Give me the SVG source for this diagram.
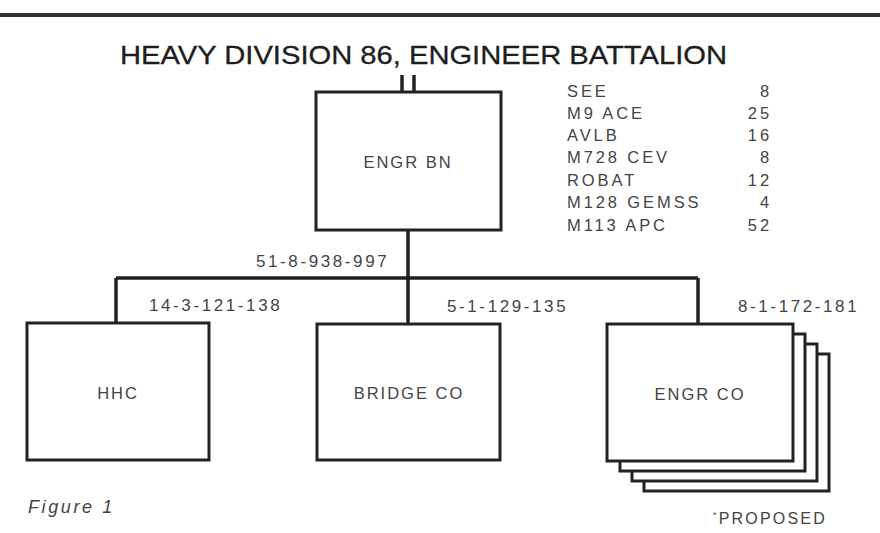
<svg xmlns="http://www.w3.org/2000/svg" width="880" height="533" viewBox="0 0 880 533">
<style>
.box{fill:#fff;stroke:#222;stroke-width:3}
.ln{stroke:#222;stroke-width:3.5;fill:none}
.lbl{font-family:"Liberation Sans",Arial,sans-serif;font-size:16.5px;fill:#444;letter-spacing:2px}
.num{font-family:"Liberation Sans",Arial,sans-serif;font-size:17px;fill:#444;letter-spacing:2.6px}
.eq{font-family:"Liberation Sans",Arial,sans-serif;font-size:16.5px;fill:#444;letter-spacing:2.9px}
.title{font-family:"Liberation Sans",Arial,sans-serif;font-size:25px;fill:#1e1e1e;stroke:#1e1e1e;stroke-width:0.3}
</style>
<rect width="880" height="533" fill="#fff"/>
<line x1="0" y1="15" x2="880" y2="15" stroke="#333" stroke-width="4"/>
<text class="title" x="120" y="64" textLength="607" lengthAdjust="spacingAndGlyphs">HEAVY DIVISION 86, ENGINEER BATTALION</text>
<g id="connectors">
<line class="ln" x1="402" y1="75" x2="402" y2="92" stroke-width="2.5"/>
<line class="ln" x1="414" y1="75" x2="414" y2="92" stroke-width="2.5"/>
<line class="ln" x1="408" y1="230" x2="408" y2="278"/>
<line class="ln" x1="116" y1="278" x2="698" y2="278"/>
<line class="ln" x1="116" y1="278" x2="116" y2="323"/>
<line class="ln" x1="408" y1="278" x2="408" y2="324"/>
<line class="ln" x1="698" y1="278" x2="698" y2="324"/>
</g>
<g id="engr-bn">
<rect class="box" x="316" y="92" width="185" height="138"/>
<text class="lbl" x="408" y="168" text-anchor="middle">ENGR BN</text>
</g>
<g id="equipment">
<text class="eq" x="567" y="97">SEE</text><text class="eq" x="772" y="97" text-anchor="end">8</text>
<text class="eq" x="567" y="119">M9 ACE</text><text class="eq" x="772" y="119" text-anchor="end">25</text>
<text class="eq" x="567" y="141">AVLB</text><text class="eq" x="772" y="141" text-anchor="end">16</text>
<text class="eq" x="567" y="163">M728 CEV</text><text class="eq" x="772" y="163" text-anchor="end">8</text>
<text class="eq" x="567" y="186">ROBAT</text><text class="eq" x="772" y="186" text-anchor="end">12</text>
<text class="eq" x="567" y="208">M128 GEMSS</text><text class="eq" x="772" y="208" text-anchor="end">4</text>
<text class="eq" x="567" y="231">M113 APC</text><text class="eq" x="772" y="231" text-anchor="end">52</text>
</g>
<text class="num" x="256" y="267">51-8-938-997</text>
<text class="num" x="149" y="311">14-3-121-138</text>
<text class="num" x="447" y="312">5-1-129-135</text>
<text class="num" x="738" y="312">8-1-172-181</text>
<g id="hhc">
<rect class="box" x="27" y="323" width="182" height="137"/>
<text class="lbl" x="118" y="399" text-anchor="middle">HHC</text>
</g>
<g id="bridge-co">
<rect class="box" x="317" y="324" width="183" height="136"/>
<text class="lbl" x="409" y="399" text-anchor="middle">BRIDGE CO</text>
</g>
<g id="engr-co">
<rect class="box" x="644" y="354" width="185" height="137"/>
<rect class="box" x="632" y="344" width="185" height="137"/>
<rect class="box" x="620" y="334" width="185" height="137"/>
<rect class="box" x="607" y="324" width="186" height="137"/>
<text class="lbl" x="700" y="400" text-anchor="middle">ENGR CO</text>
</g>
<text x="28" y="513" font-family="Liberation Sans, Arial, sans-serif" font-size="18" font-style="italic" fill="#444" letter-spacing="2.6">Figure 1</text>
<text x="713" y="524" font-family="Liberation Sans, Arial, sans-serif" font-size="16" fill="#444" letter-spacing="2.2"><tspan font-size="9" dy="-6">*</tspan><tspan dy="6">PROPOSED</tspan></text>
</svg>
